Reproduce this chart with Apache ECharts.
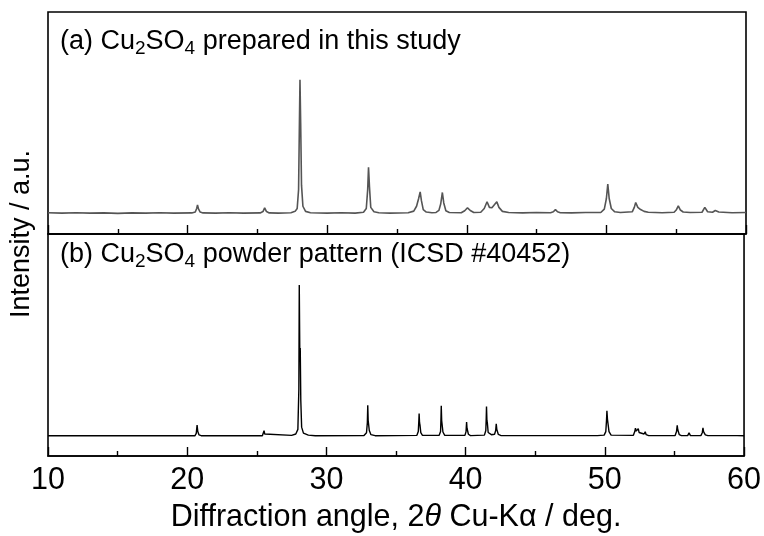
<!DOCTYPE html>
<html>
<head>
<meta charset="utf-8">
<script src="https://cdn.jsdelivr.net/npm/echarts@6/dist/echarts.min.js"></script>
<style>
html,body{margin:0;padding:0;background:#fff;}
#c{width:764px;height:536px;}
</style>
</head>
<body>
<div id="c"></div>
<script>
// x-axis range and tick labels (2theta, deg.)
const xTicks = [10, 20, 30, 40, 50, 60];

// (a) measured pattern of Cu2SO4 prepared in this study: [2theta, intensity (a.u.)]
const measured = [
  [10, 9.6], [11, 9.4], [12, 9.6], [13, 9.4], [14, 9.5], [15, 9.3], [16, 9.5], [17, 9.4], [18, 9.6], [19, 9.4], [20.3, 9.5],
  [20.55, 9.9], [20.65, 11.5], [20.71, 13.1], [20.78, 11.3], [20.9, 9.9], [21.1, 9.5],
  [22, 9.4], [23, 9.6], [24, 9.4], [25.2, 9.5],
  [25.4, 10.1], [25.52, 11.8], [25.65, 10.1], [25.85, 9.5],
  [26.5, 9.4], [27.4, 9.6], [27.7, 10.2],
  [27.85, 11.5], [27.95, 20], [28.0, 45], [28.05, 69.5], [28.1, 50], [28.16, 22], [28.26, 12.5], [28.45, 10.2], [28.8, 9.6],
  [30, 9.4], [31, 9.6], [32, 9.4], [32.6, 9.8],
  [32.8, 11.5], [32.9, 20], [32.96, 30], [33.03, 21], [33.12, 12], [33.35, 10], [33.7, 9.6],
  [34.5, 9.4], [35.8, 9.6], [36.2, 10.3],
  [36.4, 12.5], [36.55, 16], [36.66, 19], [36.75, 15], [36.88, 11], [37.1, 9.9], [37.5, 9.6],
  [37.8, 9.7], [38.0, 10.6],
  [38.13, 13.5], [38.25, 18.7], [38.35, 14], [38.5, 10.5], [38.75, 9.7],
  [39.6, 9.6], [39.85, 10.5], [40.05, 11.8], [40.25, 10.6], [40.5, 9.7],
  [41.0, 9.8], [41.25, 11.5], [41.45, 14.5], [41.62, 12], [41.8, 11.8], [42.15, 14.5], [42.3, 12], [42.55, 10.2], [43.0, 9.7],
  [44, 9.5], [45, 9.7], [46.0, 9.6], [46.2, 10], [46.35, 11], [46.5, 10], [46.7, 9.6],
  [47.5, 9.5], [48.5, 9.7], [49.6, 9.7],
  [49.85, 11.2], [50.0, 16], [50.1, 22.5], [50.2, 16], [50.35, 11.5], [50.6, 10], [51, 9.7],
  [51.85, 10], [52.0, 12], [52.1, 14.2], [52.25, 12], [52.45, 11], [52.7, 10.2], [53, 9.8],
  [54, 9.6], [54.85, 9.8], [55.0, 10.8], [55.15, 12.7], [55.3, 10.8], [55.5, 9.9], [56, 9.7],
  [56.85, 9.8], [57.05, 12], [57.25, 10], [57.6, 9.8], [57.8, 10.6], [58.05, 9.9], [59, 9.6], [60, 9.7]
];

// (b) calculated powder pattern, ICSD #40452: [2theta, intensity (a.u.)]
const reference = [
  [10, 9.1], [20.55, 9.1], [20.65, 10.2], [20.71, 13.9], [20.76, 11], [20.85, 9.5], [21.0, 9.15],
  [25.4, 9.15], [25.48, 10], [25.52, 11.4], [25.57, 9.9], [25.7, 9.15],
  [27.5, 9.3], [27.8, 9.9], [27.95, 12], [28.02, 30], [28.05, 77], [28.09, 45], [28.12, 48.7], [28.16, 25], [28.22, 13], [28.35, 10.3], [28.7, 9.4], [29.2, 9.15],
  [32.7, 9.2], [32.88, 10.5], [32.94, 15], [32.97, 22.9], [33.0, 16], [33.03, 16.5], [33.08, 11.5], [33.2, 9.6], [33.5, 9.15],
  [36.5, 9.3], [36.6, 11], [36.64, 16], [36.66, 19.1], [36.69, 15], [36.72, 14], [36.78, 10.5], [36.9, 9.3],
  [38.1, 9.3], [38.2, 11], [38.23, 17], [38.25, 22.6], [38.28, 16], [38.31, 15.5], [38.37, 10.8], [38.5, 9.3],
  [39.95, 9.3], [40.03, 11], [40.07, 15.3], [40.1, 12.5], [40.14, 12], [40.2, 9.8], [40.35, 9.2],
  [41.35, 9.4], [41.45, 11.5], [41.48, 17], [41.5, 22.3], [41.53, 16], [41.56, 15], [41.62, 10.6],
  [41.85, 9.6], [42.08, 9.8], [42.16, 11.5], [42.2, 14.5], [42.24, 12], [42.28, 11.5], [42.35, 9.7], [42.55, 9.2],
  [43.45, 9.2], [43.53, 10], [43.62, 9.2],
  [45.1, 9.2], [45.19, 10], [45.28, 9.2],
  [46.3, 9.2], [46.39, 10], [46.48, 9.2],
  [49.28, 9.2], [49.37, 10], [49.46, 9.2],
  [49.95, 9.4], [50.07, 11], [50.12, 16], [50.15, 20.4], [50.19, 16.5], [50.23, 16], [50.3, 11], [50.45, 9.4],
  [52.05, 9.3], [52.15, 11], [52.2, 12.5], [52.25, 11.2], [52.3, 11.5], [52.4, 12.3], [52.46, 10.6], [52.6, 9.8], [52.82, 9.9], [52.9, 10.9], [52.97, 9.6], [53.15, 9.2],
  [55.05, 9.2], [55.15, 11], [55.2, 13.8], [55.24, 11.8], [55.28, 11.5], [55.35, 9.6], [55.5, 9.2],
  [55.95, 9.2], [56.05, 10.4], [56.15, 9.2],
  [56.9, 9.2], [57.0, 10.5], [57.05, 12.7], [57.09, 11], [57.13, 10.8], [57.22, 9.5], [57.4, 9.2],
  [57.85, 9.2], [57.95, 10], [58.05, 9.2],
  [59.3, 9.2], [59.4, 10], [59.5, 9.2], [60, 9.1]
];

const panelLabels = [
  '(a) Cu{s|2}SO{s|4} prepared in this study',
  '(b) Cu{s|2}SO{s|4} powder pattern (ICSD #40452)'
];
const yTitle = 'Intensity / a.u.';
const xTitle = 'Diffraction angle, 2{i|θ} Cu-Kα / deg.';

const FONT = '"Liberation Sans", Arial, sans-serif';
const chart = echarts.init(document.getElementById('c'), null, {renderer: 'canvas'});

const richLabel = {
  n: {fontSize: 27, fontFamily: FONT, color: '#000', lineHeight: 34, verticalAlign: 'middle'},
  s: {fontSize: 19, fontFamily: FONT, color: '#000', lineHeight: 19, verticalAlign: 'bottom'}
};
function wrapRich(t) {
  return t.split(/(\{s\|[^}]*\})/).filter(p => p.length).map(p => p.startsWith('{s|') ? p : '{n|' + p + '}').join('');
}

function xAxisCfg(idx, showLabels) {
  return {
    type: 'value', gridIndex: idx, min: xTicks[0], max: xTicks[xTicks.length - 1], interval: 10,
    axisLine: {show: true, onZero: false, lineStyle: {color: '#000', width: 1.6}},
    axisTick: {show: true, inside: true, length: 9, lineStyle: {color: '#000', width: 1.4}},
    minorTick: {show: true, splitNumber: 2, length: 5, lineStyle: {color: '#000', width: 1.4}},
    splitLine: {show: false},
    axisLabel: {show: showLabels, fontSize: 30.5, fontFamily: FONT, color: '#000', margin: 9},
    name: showLabels ? xTitle : '',
    nameLocation: 'middle', nameGap: 46,
    nameTextStyle: {fontSize: 30.5, fontFamily: FONT, color: '#000',
      rich: {i: {fontSize: 30.5, fontFamily: FONT, fontStyle: 'italic', color: '#000'}}}
  };
}
function yAxisCfg(idx) {
  return {
    type: 'value', gridIndex: idx, min: 0, max: 100,
    axisLine: {show: false}, axisTick: {show: false}, axisLabel: {show: false}, splitLine: {show: false}
  };
}

chart.setOption({
  animation: false,
  backgroundColor: '#fff',
  grid: [
    {left: 48, right: 18, top: 12, height: 222, show: true, borderColor: '#000', borderWidth: 1.6, backgroundColor: 'transparent'},
    {left: 48, right: 18, top: 234, height: 222, show: true, borderColor: '#000', borderWidth: 1.6, backgroundColor: 'transparent'}
  ],
  xAxis: [xAxisCfg(0, false), xAxisCfg(1, true)],
  yAxis: [yAxisCfg(0), yAxisCfg(1)],
  series: [
    {type: 'line', xAxisIndex: 0, yAxisIndex: 0, data: measured, showSymbol: false, symbol: 'none',
      lineStyle: {color: '#555', width: 1.6}, smooth: false, clip: true},
    {type: 'line', xAxisIndex: 1, yAxisIndex: 1, data: reference, showSymbol: false, symbol: 'none',
      lineStyle: {color: '#000', width: 1.4}, smooth: false, clip: true}
  ],
  graphic: [
    {type: 'text', left: 60, top: 28, style: {text: wrapRich(panelLabels[0]), rich: richLabel}},
    {type: 'text', left: 60, top: 241, style: {text: wrapRich(panelLabels[1]), rich: richLabel}},
    {type: 'text', x: 22, y: 234, rotation: Math.PI / 2,
      style: {text: yTitle, fontSize: 27, fontFamily: FONT, fill: '#000', align: 'center', verticalAlign: 'middle'}}
  ]
});
</script>
</body>
</html>
